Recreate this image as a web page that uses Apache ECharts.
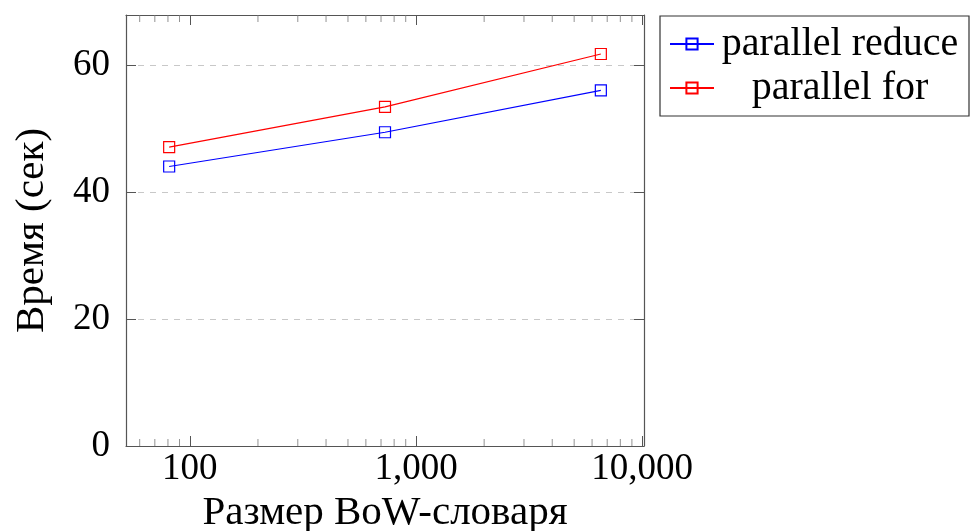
<!DOCTYPE html>
<html>
<head>
<meta charset="utf-8">
<script src="https://cdn.jsdelivr.net/npm/echarts@6/dist/echarts.min.js"></script>
<style>
html,body{margin:0;padding:0;background:#fff;}
#chart{width:970px;height:531px;}
</style>
</head>
<body>
<div id="chart"></div>
<script>
// ---- data ----
var vocabSizes = [81, 729, 6561];
var reduceTimes = [44.1, 49.5, 56.1];
var forTimes = [47.15, 53.5, 61.85];
var seriesNames = ['parallel reduce', 'parallel for'];
var xMin = 52.2, xMax = 10180;
var yMin = 0, yMax = 68, yInterval = 20;
var minorTickValues = [60, 70, 80, 90, 200, 300, 400, 500, 600, 700, 800, 900,
  2000, 3000, 4000, 5000, 6000, 7000, 8000, 9000];
var xAxisName = 'Размер BoW-словаря';
var yAxisName = 'Время (сек)';

var FONT = '"Liberation Serif", "Times New Roman", serif';
var AXIS_COLOR = '#555';

function pairs(xs, ys) { return xs.map(function (x, i) { return [x, ys[i]]; }); }

function xLabel(v) {
  var l = Math.log10(v);
  if (Math.abs(l - Math.round(l)) > 1e-6) return '';
  return Math.round(v).toLocaleString('en-US');
}

var chart = echarts.init(document.getElementById('chart'), null, {renderer: 'canvas'});

var baseX = {
  type: 'log', logBase: 10, min: xMin, max: xMax,
  axisLine: {show: true, onZero: false, lineStyle: {color: AXIS_COLOR, width: 1.2}},
  axisTick: {show: true, inside: true, length: 10, lineStyle: {color: AXIS_COLOR, width: 1}},
  splitLine: {show: false},
  minorTick: {show: false},
  minorSplitLine: {show: false}
};

var option = {
  animation: false,
  backgroundColor: '#fff',
  grid: {left: 126, right: 326, top: 15, bottom: 85, containLabel: false, outerBoundsMode: 'none'},
  xAxis: [
    Object.assign({}, baseX, {
      position: 'bottom',
      name: xAxisName, nameLocation: 'middle', nameGap: 46,
      nameTextStyle: {fontFamily: FONT, fontSize: 41, color: '#000'},
      axisLabel: {show: true, margin: 5, fontFamily: FONT, fontSize: 37, color: '#000',
        formatter: xLabel, showMinLabel: false, showMaxLabel: false}
    }),
    Object.assign({}, baseX, {
      position: 'top',
      axisLabel: {show: false}
    })
  ],
  yAxis: [
    {
      type: 'value', min: yMin, max: yMax, interval: yInterval, position: 'left',
      name: yAxisName, nameLocation: 'middle', nameGap: 73, nameRotate: 90,
      nameTextStyle: {fontFamily: FONT, fontSize: 41, color: '#000'},
      axisLine: {show: true, lineStyle: {color: AXIS_COLOR, width: 1.2}},
      axisTick: {show: true, inside: true, length: 10, lineStyle: {color: AXIS_COLOR, width: 1}},
      axisLabel: {show: true, margin: 16, fontFamily: FONT, fontSize: 37, color: '#000', showMaxLabel: false},
      splitLine: {show: true, lineStyle: {color: '#c8c8c8', width: 1, type: [6, 6]}}
    },
    {
      type: 'value', min: yMin, max: yMax, interval: yInterval, position: 'right',
      axisLine: {show: true, lineStyle: {color: AXIS_COLOR, width: 1.2}},
      axisTick: {show: true, inside: true, length: 10, lineStyle: {color: AXIS_COLOR, width: 1}},
      axisLabel: {show: false},
      splitLine: {show: false}
    }
  ],
  legend: {
    show: true,
    orient: 'vertical',
    left: 660, top: 16,
    data: seriesNames,
    itemWidth: 44, itemHeight: 14, itemGap: 4,
    padding: [8, 8, 8, 9],
    borderColor: '#333', borderWidth: 1.2,
    backgroundColor: '#fff',
    formatter: function (name) { return '{t|' + name + '}'; },
    textStyle: {
      rich: {
        t: {fontFamily: FONT, fontSize: 40, color: '#000', width: 242, align: 'center', lineHeight: 38}
      }
    },
    selectedMode: false
  },
  series: [
    {
      name: seriesNames[0], type: 'line', xAxisIndex: 0, yAxisIndex: 0,
      data: pairs(vocabSizes, reduceTimes),
      symbol: 'rect', symbolSize: 11, showSymbol: true,
      lineStyle: {color: '#0000ff', width: 1.2},
      itemStyle: {color: 'rgba(255,255,255,0)', borderColor: '#0000ff', borderWidth: 1.2},
      emphasis: {disabled: true}, z: 3
    },
    {
      name: seriesNames[1], type: 'line', xAxisIndex: 0, yAxisIndex: 0,
      data: pairs(vocabSizes, forTimes),
      symbol: 'rect', symbolSize: 11, showSymbol: true,
      lineStyle: {color: '#ff0000', width: 1.2},
      itemStyle: {color: 'rgba(255,255,255,0)', borderColor: '#ff0000', borderWidth: 1.2},
      emphasis: {disabled: true}, z: 3
    },
    {
      name: 'minorBottom', type: 'scatter', xAxisIndex: 0, yAxisIndex: 0,
      data: minorTickValues.map(function (v) { return [v, yMin]; }),
      symbol: 'rect', symbolSize: [1, 7], symbolOffset: [0, '-50%'],
      itemStyle: {color: '#777'}, silent: true, clip: false, z: 4,
      emphasis: {disabled: true}
    },
    {
      name: 'minorTop', type: 'scatter', xAxisIndex: 0, yAxisIndex: 0,
      data: minorTickValues.map(function (v) { return [v, yMax]; }),
      symbol: 'rect', symbolSize: [1, 7], symbolOffset: [0, '50%'],
      itemStyle: {color: '#777'}, silent: true, clip: false, z: 4,
      emphasis: {disabled: true}
    }
  ]
};
chart.setOption(option);
</script>
</body>
</html>
